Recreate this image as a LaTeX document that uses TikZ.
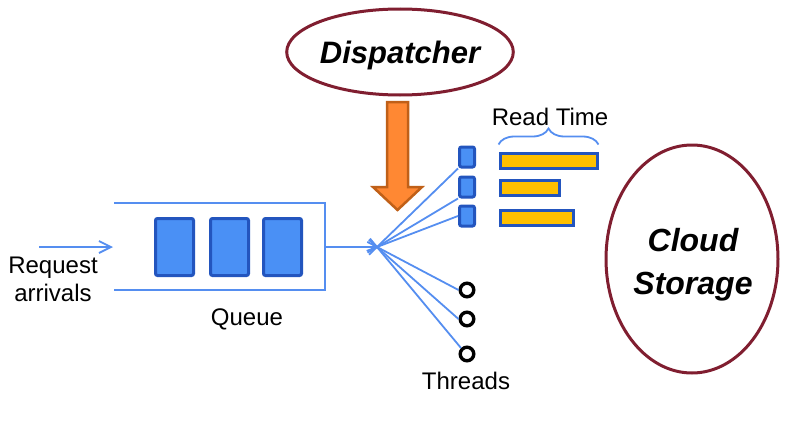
\documentclass[tikz,border=0pt]{standalone}
\usepackage{fontspec}
\setmainfont{Liberation Sans}
\usetikzlibrary{arrows.meta, shapes.geometric, calc, decorations.pathreplacing}
\definecolor{linkblue}{RGB}{85, 142, 240}
\definecolor{boxblue}{RGB}{74, 144, 245}
\definecolor{edgeblue}{RGB}{35, 85, 190}
\definecolor{baryellow}{RGB}{255, 192, 0}
\definecolor{arroworange}{RGB}{255, 136, 51}
\definecolor{arrowedge}{RGB}{192, 96, 24}
\definecolor{darkmaroon}{RGB}{128, 30, 48}

\begin{document}
\begin{tikzpicture}[x=0.5pt, y=-0.5pt,
  link/.style={linkblue, line width=0.9pt},
  qbox/.style={draw=edgeblue, fill=boxblue, line width=1.5pt, rounded corners=1pt,
               minimum width=19pt, minimum height=28.5pt, inner sep=0pt},
  tbox/.style={qbox, minimum width=7.5pt, minimum height=10pt},
  rbar/.style={draw=edgeblue, fill=baryellow, line width=1.5pt,
               minimum height=7.5pt, inner sep=0pt, anchor=west},
  idle/.style={circle, draw=black, line width=1.7pt, minimum size=6.8pt, inner sep=0pt},
  oval/.style={ellipse, draw=darkmaroon, line width=1.5pt, inner sep=0pt},
  lbl/.style={font=\fontsize{12}{14}\selectfont},
  big/.style={font=\fontsize{16}{21.5}\selectfont\bfseries\itshape}]
  \useasboundingbox (0,0) rectangle (788,423);

  % Dispatcher
  \node[oval, big, font=\fontsize{15.5}{18}\selectfont\bfseries\itshape, text depth=0pt,
        minimum width=102pt, minimum height=43pt] (disp) at (400,52) {Dispatcher};
  \draw[arrowedge, fill=arroworange, line width=1.25pt]
    (387,102) -- (408,102) -- (408,187) -- (422,187) -- (397.5,210) -- (373,187) -- (387,187) -- cycle;

  % incoming requests
  \coordinate (src) at (39,247);
  \coordinate (qin) at (113,247);
  \draw[link, -{Straight Barb[length=6pt, width=6pt]}] (src) -- (qin);
  \node[lbl, align=center] (req) at (53,279) {Request\\arrivals};

  % queue
  \draw[link] (114,203) -| (325,290) -- (114,290);
  \node[qbox] (q1) at (174.5,247) {};
  \node[qbox] (q2) at (229.5,247) {};
  \node[qbox] (q3) at (282.5,247) {};
  \node[lbl, anchor=base] (qlbl) at (247,325) {Queue};

  % fan-out to threads
  \coordinate (qout) at (325,247);
  \coordinate (fan) at (377,247);
  \draw[link] (qout) -- (fan);

  % busy threads
  \node[tbox] (t1) at (467,157) {};
  \node[tbox] (t2) at (467,187) {};
  \node[tbox] (t3) at (467,216) {};

  % idle threads
  \node[idle] (c1) at (467,290) {};
  \node[idle] (c2) at (467,319) {};
  \node[idle] (c3) at (467,354) {};
  \node[lbl, anchor=base] (thr) at (466,389) {Threads};

  \foreach \t in {t1.south west, t2.south west, t3.west, c1.west, c2.west, c3.north west}
    \draw[link] ($(fan)!-5.5pt!(\t)$) -- (\t);

  % read times
  \node[rbar, minimum width=48.5pt] (r1) at (498.5,160.5) {};
  \node[rbar, minimum width=29.5pt] (r2) at (498.5,188) {};
  \node[rbar, minimum width=36.5pt] (r3) at (498.5,217.5) {};
  \draw[link, decorate, decoration={brace, amplitude=8pt}]
    ([yshift=3.5pt]r1.north west) -- ([yshift=3.5pt]r1.north east);
  \node[lbl, anchor=base] (rt) at (550,125) {Read Time};

  % Cloud Storage
  \node[oval, minimum width=86pt, minimum height=114pt] (store) at (692,259) {};
  \node[big, align=center] (storetxt) at (693,265) {Cloud\\Storage};
\end{tikzpicture}
\end{document}
